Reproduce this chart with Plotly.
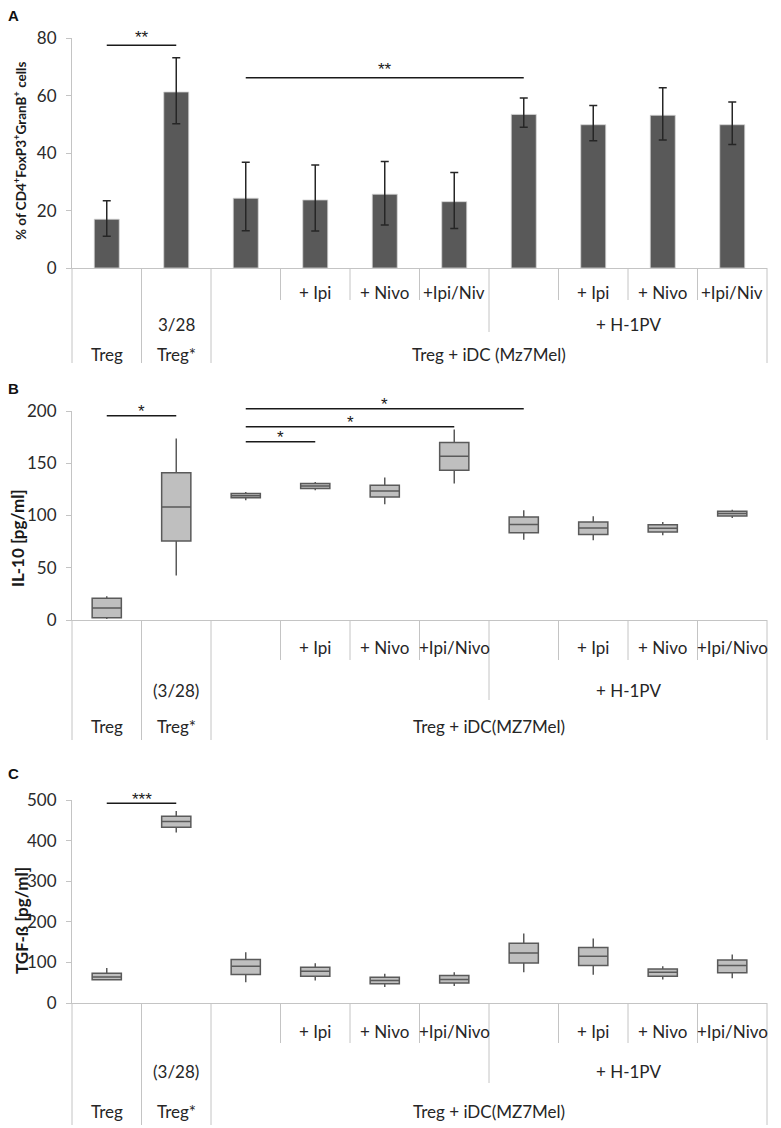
import plotly.graph_objects as go

W, H = 781, 1128

# ---------------- data ----------------
x_pos = list(range(10))

row1_A = ["", "", "", "+ Ipi", "+ Nivo", "+Ipi/Niv", "", "+ Ipi", "+ Nivo", "+Ipi/Niv"]
row1_BC = ["", "", "", "+ Ipi", "+ Nivo", "+Ipi/Nivo", "", "+ Ipi", "+ Nivo", "+Ipi/Nivo"]
row2_A = [("", 0, 0), ("3/28", 1, 1), ("", 2, 5), ("+ H-1PV", 6, 9)]
row2_BC = [("", 0, 0), ("(3/28)", 1, 1), ("", 2, 5), ("+ H-1PV", 6, 9)]
row3_A = [("Treg", 0, 0), ("Treg*", 1, 1), ("Treg + iDC (Mz7Mel)", 2, 9)]
row3_BC = [("Treg", 0, 0), ("Treg*", 1, 1), ("Treg + iDC(MZ7Mel)", 2, 9)]

# Panel A: % CD4+FoxP3+GranB+ cells (mean, upper and lower error ends)
A_mean = [17.0, 61.3, 24.3, 23.7, 25.7, 23.1, 53.5, 49.9, 53.2, 49.9]
A_upper = [23.4, 73.2, 36.8, 35.9, 37.1, 33.3, 59.2, 56.6, 62.8, 57.8]
A_lower = [11.1, 50.2, 13.0, 12.9, 15.0, 13.8, 49.0, 44.3, 44.6, 43.0]

# Panel B: IL-10 [pg/ml]
B_low = [1.0, 42.6, 114.6, 124.2, 110.7, 130.6, 76.8, 76.2, 81.0, 97.6]
B_q1 = [2.2, 75.5, 117.0, 125.8, 117.8, 143.4, 83.5, 81.9, 84.2, 99.5]
B_med = [11.5, 108.2, 119.0, 128.3, 123.5, 156.8, 91.5, 88.0, 87.7, 101.8]
B_q3 = [20.8, 140.8, 121.0, 130.6, 129.0, 169.9, 98.6, 93.8, 91.2, 104.0]
B_high = [22.7, 173.8, 122.6, 132.0, 136.3, 182.4, 105.0, 99.2, 93.8, 105.6]

# Panel C: TGF-beta [pg/ml]
C_low = [55.5, 420.0, 51.4, 55.5, 39.2, 41.6, 76.0, 69.4, 58.0, 61.2]
C_q1 = [57.0, 432.7, 70.2, 66.0, 47.3, 49.0, 98.8, 92.2, 66.0, 74.3]
C_med = [64.0, 447.0, 90.6, 78.4, 55.5, 58.0, 123.3, 115.0, 76.0, 92.2]
C_q3 = [73.5, 460.0, 107.0, 88.0, 63.7, 67.8, 147.0, 137.0, 84.0, 106.0]
C_high = [86.5, 473.0, 125.0, 98.0, 71.8, 76.0, 171.4, 159.0, 90.6, 119.2]

# significance brackets: (from category, to category, height, label)
sig_A = [(0, 1, 77.6, "**"), (2, 6, 66.3, "**")]
sig_B = [(0, 1, 195.5, "*"), (2, 3, 170.5, "*"), (2, 5, 184.9, "*"), (2, 6, 202.2, "*")]
sig_C = [(0, 1, 492.0, "***")]

A_ticks = [0, 20, 40, 60, 80]
B_ticks = [0, 50, 100, 150, 200]
C_ticks = [0, 100, 200, 300, 400, 500]

# ---------------- geometry ----------------
X_LEFT, X_RIGHT = 72.0, 767.0
CW = (X_RIGHT - X_LEFT) / 10.0
FONT = "Lato"
TXT = "#262626"
GRID = "#c4c4c4"

panels = {
    "A": dict(zero=268.0, top=38.3, ymax=80, rows=[300, 332, 363], texty=[292, 324, 354]),
    "B": dict(zero=620.0, top=411.0, ymax=200, rows=[660, 700, 740], texty=[647, 690, 727]),
    "C": dict(zero=1003.0, top=800.0, ymax=500, rows=[1043, 1083, 1125], texty=[1031, 1071, 1111]),
}


def px_x(p):
    return p / W


def px_y(p):
    return 1 - p / H


def cat_px(i):
    return X_LEFT + CW * (i + 0.5)


def val_py(panel, v):
    g = panels[panel]
    return g["zero"] - (g["zero"] - g["top"]) * v / g["ymax"]


fig = go.Figure()

fig.add_trace(go.Bar(
    x=x_pos, y=A_mean, width=0.36,
    marker=dict(color="#595959", line=dict(color="#d6d6d6", width=0.8)),
    error_y=dict(type="data", symmetric=False,
                 array=[u - m for u, m in zip(A_upper, A_mean)],
                 arrayminus=[m - l for m, l in zip(A_mean, A_lower)],
                 color="#262626", thickness=1.5, width=4),
    xaxis="x", yaxis="y", showlegend=False, hoverinfo="skip"))

for q in [(B_low, B_q1, B_med, B_q3, B_high, "x2", "y2"),
          (C_low, C_q1, C_med, C_q3, C_high, "x3", "y3")]:
    lo, q1, med, q3, hi, xa, ya = q
    fig.add_trace(go.Box(
        x=x_pos, lowerfence=lo, q1=q1, median=med, q3=q3, upperfence=hi,
        width=0.42, whiskerwidth=0, fillcolor="#bfbfbf",
        line=dict(color="#5a5a5a", width=1.5), boxpoints=False,
        xaxis=xa, yaxis=ya, showlegend=False, hoverinfo="skip"))

axis_common_x = dict(domain=[px_x(X_LEFT), px_x(X_RIGHT)], range=[-0.5, 9.5],
                     showticklabels=False, ticks="", showgrid=False, zeroline=False,
                     showline=True, linecolor=GRID, linewidth=1, fixedrange=True,
                     automargin=False)


def yax(panel, ticks, anchor):
    g = panels[panel]
    return dict(domain=[px_y(g["zero"]), px_y(g["top"])], range=[0, g["ymax"]],
                tickvals=ticks, ticks="outside", ticklen=5, tickcolor=GRID,
                showline=True, linecolor=GRID, linewidth=1, showgrid=False,
                zeroline=False, tickfont=dict(family=FONT, size=17, color="#2a2a2a"),
                ticklabelstandoff=6, anchor=anchor, fixedrange=True, automargin=False)


shapes = []
annotations = []


def ann(text, xp, yp, size, family=FONT, color=TXT, angle=0):
    annotations.append(dict(text=text, x=px_x(xp), y=px_y(yp), xref="paper", yref="paper",
                            xanchor="center", yanchor="middle", showarrow=False,
                            textangle=angle, font=dict(family=family, size=size, color=color)))


def add_table(panel, row1, row2, row3):
    g = panels[panel]
    top = g["zero"]
    b1, b2, b3 = g["rows"]
    ty1, ty2, ty3 = g["texty"]
    full = set()
    for _, s, e in row3:
        full.update([s, e + 1])
    mid = set()
    for _, s, e in row2:
        mid.update([s, e + 1])
    for k in range(11):
        bottom = b3 if k in full else (b2 if k in mid else b1)
        xp = X_LEFT + CW * k
        shapes.append(dict(type="line", xref="paper", yref="paper",
                           x0=px_x(xp), x1=px_x(xp), y0=px_y(top), y1=px_y(bottom),
                           line=dict(color=GRID, width=1)))
    for i, t in enumerate(row1):
        if t:
            ann(t, cat_px(i), ty1, 17)
    for rows, ty in [(row2, ty2), (row3, ty3)]:
        for t, s, e in rows:
            if t:
                ann(t, (cat_px(s) + cat_px(e)) / 2, ty, 17)


def add_sig(panel, sigs, shift):
    for s, e, v, lab in sigs:
        py = val_py(panel, v)
        shapes.append(dict(type="line", xref="paper", yref="paper",
                           x0=px_x(cat_px(s)), x1=px_x(cat_px(e)), y0=px_y(py), y1=px_y(py),
                           line=dict(color="#1a1a1a", width=1.5)))
        ann(lab, (cat_px(s) + cat_px(e)) / 2, py - shift, 17, family="Liberation Sans", color="#1a1a1a")


add_table("A", row1_A, row2_A, row3_A)
add_table("B", row1_BC, row2_BC, row3_BC)
add_table("C", row1_BC, row2_BC, row3_BC)
add_sig("A", sig_A, 8)
add_sig("B", sig_B, 4)
add_sig("C", sig_C, 4)

# y-axis titles
ann("<b>% of CD4<sup>+</sup>FoxP3<sup>+</sup>GranB<sup>+</sup> cells</b>", 20, 151, 13.5,
    color="#1a1a1a", angle=-90)
ann("<b>IL-10 [pg/ml]</b>", 17, 538, 17, color="#1a1a1a", angle=-90)
ann("<b>TGF-ß [pg/ml]</b>", 21, 921, 17, color="#1a1a1a", angle=-90)

# panel letters
for lab, xp, yp in [("A", 13, 15), ("B", 13, 388), ("C", 13, 773)]:
    ann("<b>" + lab + "</b>", xp, yp, 15, family="Liberation Sans", color="#111111")

fig.update_layout(
    width=W, height=H, margin=dict(l=0, r=0, t=0, b=0, pad=0, autoexpand=False),
    paper_bgcolor="white", plot_bgcolor="white", showlegend=False,
    xaxis=dict(axis_common_x, anchor="y"),
    xaxis2=dict(axis_common_x, anchor="y2"),
    xaxis3=dict(axis_common_x, anchor="y3"),
    yaxis=yax("A", A_ticks, "x"),
    yaxis2=yax("B", B_ticks, "x2"),
    yaxis3=yax("C", C_ticks, "x3"),
    shapes=shapes, annotations=annotations,
    bargap=0.5,
)

fig.write_html("out.html", config={"displayModeBar": False},
               post_script="document.body.style.margin='0';")
